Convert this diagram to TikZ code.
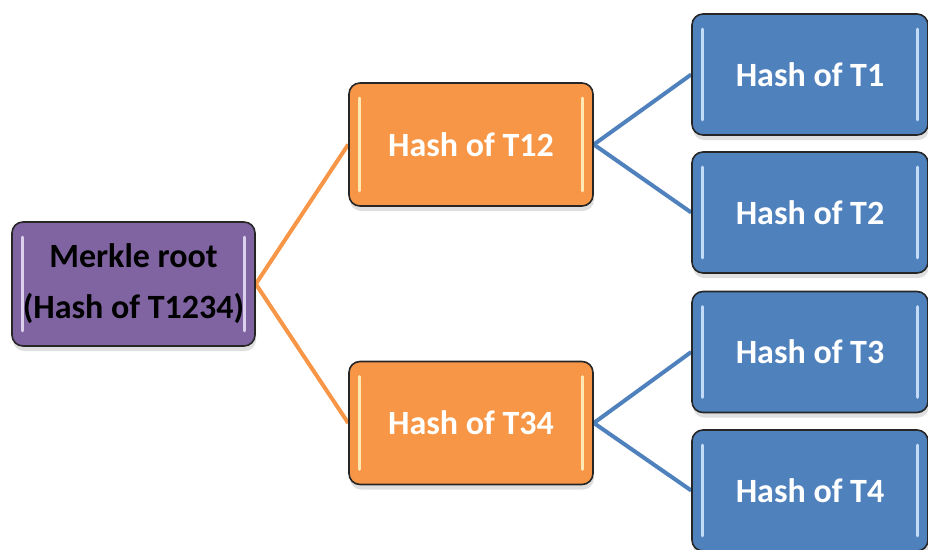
\documentclass[tikz,border=0pt]{standalone}
\usepackage{fontspec}
\setmainfont{Carlito}
\usetikzlibrary{shadows,calc,backgrounds}
\definecolor{purp}{HTML}{8064A2}
\definecolor{orng}{HTML}{F79646}
\definecolor{blu}{HTML}{4F81BD}
\definecolor{purphi}{HTML}{E6DCF5}
\definecolor{orhi}{HTML}{FFF3C0}
\definecolor{bluhi}{HTML}{CFE6FF}
\tikzset{
  box/.style={draw=black!85, line width=1.6pt, rounded corners=11pt,
    inner sep=0pt, align=center,
    font=\fontsize{34}{51}\selectfont\bfseries,
    drop shadow={opacity=0.25, shadow xshift=1pt, shadow yshift=-5pt}},
  rootbox/.style={box, fill=purp, text=black, minimum width=243pt, minimum height=124pt},
  midbox/.style={box, fill=orng, text=white, minimum width=244pt, minimum height=123pt},
  leafbox/.style={box, fill=blu, text=white, minimum width=236pt, minimum height=121pt},
  link/.style={line width=4pt},
  hil/.style={line width=3pt, line cap=round, opacity=0.9}
}
\begin{document}
\begin{tikzpicture}[x=1pt,y=-1pt]
\useasboundingbox (0,0) rectangle (928,549);
\node[rootbox] (root) at (133.5,284) {Merkle root\\(Hash of T1234)};
\node[midbox] (t12) at (471,144.5) {Hash of T12};
\node[midbox] (t34) at (471,423) {Hash of T34};
\node[leafbox] (t1) at (810,74.5) {Hash of T1};
\node[leafbox] (t2) at (810,212.5) {Hash of T2};
\node[leafbox] (t3) at (810,352) {Hash of T3};
\node[leafbox] (t4) at (810,490.5) {Hash of T4};
% inner highlights
\foreach \n/\c in {root/purphi,t12/orhi,t34/orhi,t1/bluhi,t2/bluhi,t3/bluhi,t4/bluhi}{
  \draw[hil,draw=\c] ($(\n.north west)+(11,16)$) -- ($(\n.south west)+(11,-16)$);
  \draw[hil,draw=\c] ($(\n.north east)+(-11,16)$) -- ($(\n.south east)+(-11,-16)$);
}
\begin{scope}[on background layer]
\draw[link,draw=orng] (root.east) -- (t12.west);
\draw[link,draw=orng] (root.east) -- (t34.west);
\draw[link,draw=blu] (t12.east) -- (t1.west);
\draw[link,draw=blu] (t12.east) -- (t2.west);
\draw[link,draw=blu] (t34.east) -- (t3.west);
\draw[link,draw=blu] (t34.east) -- (t4.west);
\end{scope}
\end{tikzpicture}
\end{document}
